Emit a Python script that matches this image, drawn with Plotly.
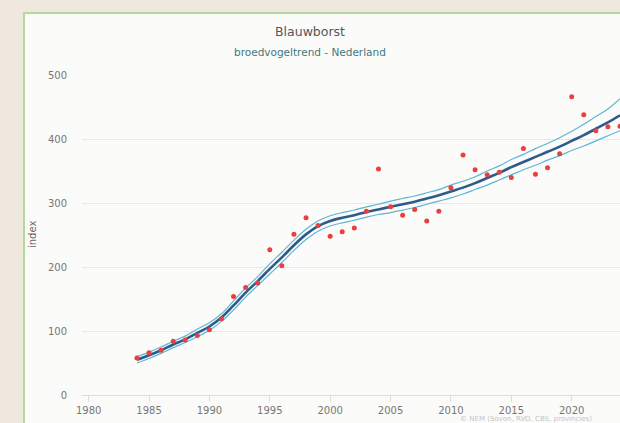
import plotly.graph_objects as go

years = list(range(1984, 2025))
index_values = [58, 66, 70, 84, 86, 93, 102, 119, 154, 168,
                175, 227, 202, 251, 277, 265, 248, 255, 261, 287,
                353, 294, 281, 290, 272, 287, 324, 375, 352, 344,
                348, 340, 385, 345, 355, 377, 466, 438, 413, 419,
                420]
trend = [55, 62, 70, 79, 87, 97, 107, 121, 140, 160,
         178, 197, 215, 234, 251, 264, 272, 277, 281, 286,
         290, 294, 298, 302, 307, 312, 318, 324, 331, 339,
         347, 356, 364, 372, 380, 388, 397, 406, 416, 426,
         437]
upper = [60, 67, 75, 84, 92, 103, 113, 127, 147, 167,
         185, 205, 223, 242, 259, 272, 280, 285, 289, 294,
         298, 303, 307, 311, 316, 321, 328, 334, 341, 350,
         358, 368, 376, 385, 393, 402, 412, 423, 435, 447,
         463]
lower = [50, 57, 65, 74, 82, 91, 101, 115, 133, 153,
         171, 189, 207, 226, 243, 256, 264, 269, 273, 278,
         282, 285, 289, 293, 298, 303, 308, 314, 321, 328,
         336, 344, 352, 359, 367, 374, 382, 389, 397, 405,
         413]
x_ticks = [1980, 1985, 1990, 1995, 2000, 2005, 2010, 2015, 2020]
y_ticks = [0, 100, 200, 300, 400, 500]

FONT = "DejaVu Sans"
ci_color = "#5fb6d2"

# plot area in window pixels: x 82..620, y 75..395
PX0, PW, PY1, PH = 82, 538, 395, 320


def px(x):
    return (x - PX0) / PW


def py(y):
    return (PY1 - y) / PH


fig = go.Figure()
fig.add_trace(go.Scatter(x=years, y=upper, mode="lines", line=dict(color=ci_color, width=1.2, shape="spline"),
                         hoverinfo="skip", showlegend=False))
fig.add_trace(go.Scatter(x=years, y=lower, mode="lines", line=dict(color=ci_color, width=1.2, shape="spline"),
                         hoverinfo="skip", showlegend=False))
fig.add_trace(go.Scatter(x=years, y=trend, mode="lines", line=dict(color="#2d5b8c", width=2.6, shape="spline"),
                         showlegend=False))
fig.add_trace(go.Scatter(x=years, y=index_values, mode="markers",
                         marker=dict(color="#e8403f", size=5), showlegend=False))

# panel with green border
fig.add_shape(type="rect", xref="paper", yref="paper",
              x0=px(24), x1=px(660), y0=py(450), y1=py(13),
              fillcolor="#fbfbf9", line=dict(color="#b3d99c", width=2), layer="below")

fig.add_annotation(text="Blauwborst", xref="paper", yref="paper", x=px(310), y=py(31),
                   showarrow=False, font=dict(family=FONT, size=12.5, color="#555555"),
                   xanchor="center", yanchor="middle")
fig.add_annotation(text="broedvogeltrend - Nederland", xref="paper", yref="paper",
                   x=px(310), y=py(52),
                   showarrow=False, font=dict(family=FONT, size=10.5, color="#43787f"),
                   xanchor="center", yanchor="middle")
fig.add_annotation(text="index", xref="paper", yref="paper", x=px(32), y=0.5,
                   textangle=-90, showarrow=False, font=dict(family=FONT, size=10, color="#666666"),
                   xanchor="center", yanchor="middle")
fig.add_annotation(text="© NEM (Sovon, RVO, CBS, provincies)", xref="paper", yref="paper",
                   x=px(458), y=py(419),
                   showarrow=False, font=dict(family=FONT, size=7, color="#c4c4c4"),
                   xanchor="left", yanchor="middle")

fig.update_layout(
    width=620, height=423, autosize=False,
    margin=dict(l=82, r=0, t=75, b=28, pad=0),
    paper_bgcolor="#eee8df", plot_bgcolor="rgba(0,0,0,0)",
    font=dict(family=FONT, size=10, color="#666666"),
    showlegend=False,
)
fig.update_xaxes(range=[1979.45, 2024.0], tickvals=x_ticks, ticktext=[str(v) for v in x_ticks],
                 showgrid=False, zeroline=False, showline=True, linecolor="#d9dee6", linewidth=1,
                 ticks="outside", ticklen=6, tickcolor="#d9dee6",
                 tickfont=dict(family=FONT, size=10, color="#777777"))
fig.update_yaxes(range=[0, 500], tickvals=y_ticks, ticktext=[str(v) for v in y_ticks],
                 showgrid=True, gridcolor="#e8e8e8", gridwidth=1, zeroline=False, showline=False,
                 ticks="", ticklabelstandoff=14,
                 tickfont=dict(family=FONT, size=10, color="#777777"))

fig.write_html("out.html", config={"displayModeBar": False},
               post_script="document.body.style.margin='0';document.body.style.overflow='hidden';")
